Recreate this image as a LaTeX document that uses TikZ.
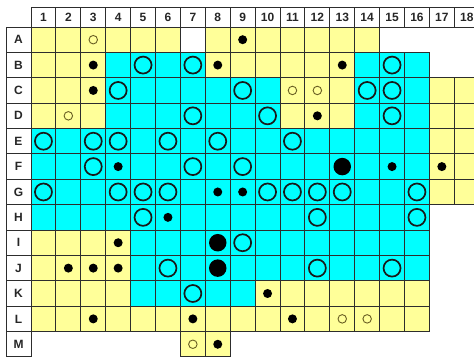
\documentclass[tikz,border=0pt]{standalone}
\usepackage{fontspec}
\setmainfont{Liberation Sans}
\usepackage{tikz}
\definecolor{Y}{RGB}{255,255,153}
\definecolor{C}{RGB}{0,255,255}
\definecolor{W}{RGB}{255,255,255}
\definecolor{gridgray}{RGB}{45,45,45}
\definecolor{ringolive}{RGB}{105,95,35}
\tikzset{x=1pt,y=-1pt}
\def\cw{24.9}
\def\rh{25.38}
\tikzset{
  cellbox/.style={draw=gridgray, line width=1pt},
  headlabel/.style={font=\bfseries\fontsize{12}{13}\selectfont, text=black!85, inner sep=0pt},
  bigring/.style={circle, draw=black!90, line width=1.7pt, minimum size=17pt, inner sep=0pt},
  smallring/.style={circle, draw=ringolive, line width=.9pt, minimum size=8.5pt, inner sep=0pt},
  blackdot/.style={circle, fill=black, minimum size=9pt, inner sep=0pt},
  bigdot/.style={circle, fill=black, minimum size=17.5pt, inner sep=0pt}
}

\begin{document}
\begin{tikzpicture}
  \useasboundingbox (0,0) rectangle (474,357);
  \clip (0,0) rectangle (474,357);
  % coloured cells, one list per row (n = no cell)
  \foreach \r/\row in {
    1/{Y,Y,Y,Y,Y,Y,W,Y,Y,Y,Y,Y,Y,Y,n,n,n,n},
    2/{Y,Y,Y,C,C,C,C,Y,Y,Y,Y,Y,Y,C,C,C,n,n},
    3/{Y,Y,Y,C,C,C,C,C,C,C,Y,Y,Y,C,C,C,Y,Y},
    4/{Y,Y,Y,C,C,C,C,C,C,C,Y,Y,Y,C,C,C,Y,Y},
    5/{C,C,C,C,C,C,C,C,C,C,C,C,C,C,C,C,Y,Y},
    6/{C,C,C,C,C,C,C,C,C,C,C,C,C,C,C,C,Y,Y},
    7/{C,C,C,C,C,C,C,C,C,C,C,C,C,C,C,C,Y,Y},
    8/{C,C,C,C,C,C,C,C,C,C,C,C,C,C,C,C,n,n},
    9/{Y,Y,Y,Y,C,C,C,C,C,C,C,C,C,C,C,C,n,n},
    10/{Y,Y,Y,Y,C,C,C,C,C,C,C,C,C,C,C,C,n,n},
    11/{Y,Y,Y,Y,C,C,C,C,C,Y,Y,Y,Y,Y,Y,Y,n,n},
    12/{Y,Y,Y,Y,Y,Y,Y,Y,Y,Y,Y,Y,Y,Y,Y,Y,n,n},
    13/{n,n,n,n,n,n,Y,Y,n,n,n,n,n,n,n,n,n,n}}
    \foreach \k [count=\c] in \row {
      \if\k n\else
        \filldraw[cellbox, fill=\k] ({31+(\c-1)*\cw},{27+(\r-1)*\rh}) rectangle +(\cw,\rh);
      \fi
    };
  % column heads
  \foreach \c in {1,...,18} {
    \draw[cellbox] ({31+(\c-1)*\cw},7) rectangle +(\cw,20);
    \node[headlabel] (col\c) at ({31+(\c-.5)*\cw},17) {\c};
  }
  % row heads
  \foreach \l [count=\r] in {A,...,M} {
    \draw[cellbox] (6,{27+(\r-1)*\rh}) rectangle +(25,\rh);
    \node[headlabel] (row\l) at (18.5,{27+(\r-.5)*\rh}) {\l};
  }
  % marks: column/row/style
  \foreach \c/\r/\s in {
    3/1/smallring, 9/1/blackdot,
    3/2/blackdot, 5/2/bigring, 7/2/bigring, 8/2/blackdot, 13/2/blackdot, 15/2/bigring,
    3/3/blackdot, 4/3/bigring, 9/3/bigring, 11/3/smallring, 12/3/smallring, 14/3/bigring, 15/3/bigring,
    2/4/smallring, 7/4/bigring, 10/4/bigring, 12/4/blackdot, 15/4/bigring,
    1/5/bigring, 3/5/bigring, 4/5/bigring, 6/5/bigring, 8/5/bigring, 11/5/bigring,
    3/6/bigring, 4/6/blackdot, 7/6/bigring, 9/6/bigring, 13/6/bigdot, 15/6/blackdot, 17/6/blackdot,
    1/7/bigring, 4/7/bigring, 5/7/bigring, 6/7/bigring, 8/7/blackdot, 9/7/blackdot,
    10/7/bigring, 11/7/bigring, 12/7/bigring, 13/7/bigring, 16/7/bigring,
    5/8/bigring, 6/8/blackdot, 12/8/bigring, 16/8/bigring,
    4/9/blackdot, 8/9/bigdot, 9/9/bigring,
    2/10/blackdot, 3/10/blackdot, 4/10/blackdot, 6/10/bigring, 8/10/bigdot, 12/10/bigring, 15/10/bigring,
    7/11/bigring, 10/11/blackdot,
    3/12/blackdot, 7/12/blackdot, 11/12/blackdot, 13/12/smallring, 14/12/smallring,
    7/13/smallring, 8/13/blackdot}
    \node[\s] (m\c-\r) at ({31+(\c-.5)*\cw},{27+(\r-.5)*\rh}) {};
\end{tikzpicture}
\end{document}
